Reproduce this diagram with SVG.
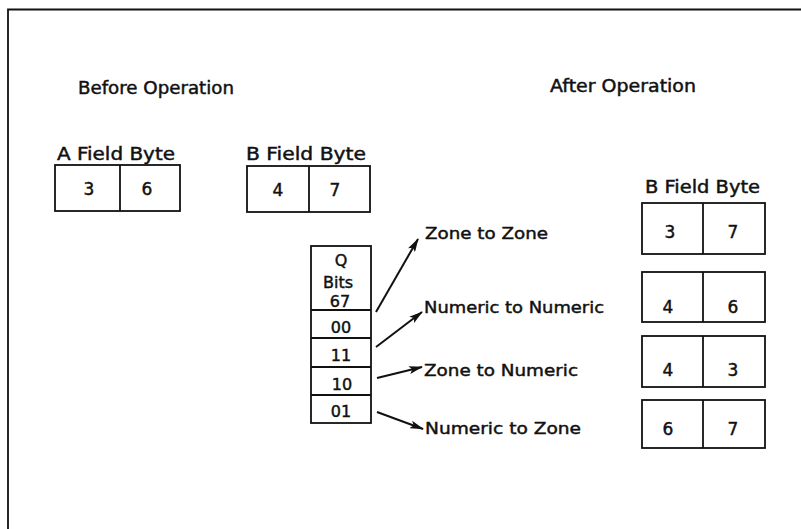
<svg xmlns="http://www.w3.org/2000/svg" width="801" height="529" viewBox="0 0 801 529">
<defs>
<style>
text{font-family:"DejaVu Sans","Liberation Sans",sans-serif;fill:#111;stroke:#111;stroke-width:0.45;}
.h{font-size:17px;}
.lbl{font-size:16px;}
.d{font-size:17px;text-anchor:middle;}
.q{font-size:16px;text-anchor:middle;}
.box{fill:none;stroke:#111;stroke-width:1.8;}
.ln{stroke:#111;stroke-width:1.8;fill:none;}
.arr{stroke:#111;stroke-width:2;fill:none;marker-end:url(#ah);}
</style>
<marker id="ah" viewBox="0 0 14 8" refX="13" refY="4" markerWidth="14" markerHeight="8" markerUnits="userSpaceOnUse" orient="auto">
<path d="M0,0 L14,4 L0,8 L3,4 Z" fill="#111"/>
</marker>
</defs>
<rect width="801" height="529" fill="#fff"/>
<g id="frame">
<path class="ln" d="M8,529 L8,9.5 L801,9.5"/>
</g>
<g id="headers">
<text class="h" x="78" y="94" textLength="156" lengthAdjust="spacingAndGlyphs">Before Operation</text>
<text class="h" x="550" y="92" textLength="146" lengthAdjust="spacingAndGlyphs">After Operation</text>
</g>
<g id="a-field">
<text class="h" x="57" y="160" textLength="118" lengthAdjust="spacingAndGlyphs">A Field Byte</text>
<rect class="box" x="55" y="165" width="125" height="46"/>
<line class="ln" x1="120" y1="165" x2="120" y2="211"/>
<text class="d" x="89" y="195">3</text>
<text class="d" x="147" y="195">6</text>
</g>
<g id="b-field-before">
<text class="h" x="246" y="160" textLength="120" lengthAdjust="spacingAndGlyphs">B Field Byte</text>
<rect class="box" x="247" y="166" width="123" height="46"/>
<line class="ln" x1="309" y1="166" x2="309" y2="212"/>
<text class="d" x="278" y="196">4</text>
<text class="d" x="335" y="196">7</text>
</g>
<g id="q-bits">
<rect class="box" x="311" y="246" width="60" height="177"/>
<line class="ln" x1="311" y1="310" x2="371" y2="310"/>
<line class="ln" x1="311" y1="338" x2="371" y2="338"/>
<line class="ln" x1="311" y1="367" x2="371" y2="367"/>
<line class="ln" x1="311" y1="395" x2="371" y2="395"/>
<text class="q" x="341" y="266">Q</text>
<text class="q" x="338" y="288">Bits</text>
<text class="q" x="340" y="307">67</text>
<text class="q" x="341" y="333">00</text>
<text class="q" x="341" y="361">11</text>
<text class="q" x="342" y="390">10</text>
<text class="q" x="341" y="417">01</text>
</g>
<g id="connectors">
<line class="arr" x1="376" y1="312" x2="418" y2="239"/>
<line class="arr" x1="376" y1="347" x2="422" y2="312"/>
<line class="arr" x1="377" y1="378" x2="422" y2="367"/>
<line class="arr" x1="377" y1="412" x2="423" y2="429"/>
</g>
<g id="labels">
<text class="lbl" x="425" y="239" textLength="123" lengthAdjust="spacingAndGlyphs">Zone to Zone</text>
<text class="lbl" x="424" y="313" textLength="180" lengthAdjust="spacingAndGlyphs">Numeric to Numeric</text>
<text class="lbl" x="424" y="376" textLength="154" lengthAdjust="spacingAndGlyphs">Zone to Numeric</text>
<text class="lbl" x="425" y="434" textLength="156" lengthAdjust="spacingAndGlyphs">Numeric to Zone</text>
</g>
<g id="after-title">
<text class="h" x="645" y="193" textLength="115" lengthAdjust="spacingAndGlyphs">B Field Byte</text>
</g>
<g id="result-zz">
<rect class="box" x="642" y="203" width="123" height="51"/>
<line class="ln" x1="703" y1="203" x2="703" y2="254"/>
<text class="d" x="670" y="238">3</text>
<text class="d" x="733" y="238">7</text>
</g>
<g id="result-nn">
<rect class="box" x="642" y="272" width="123" height="50"/>
<line class="ln" x1="703" y1="272" x2="703" y2="322"/>
<text class="d" x="668" y="313">4</text>
<text class="d" x="733" y="313">6</text>
</g>
<g id="result-zn">
<rect class="box" x="642" y="336" width="123" height="51"/>
<line class="ln" x1="703" y1="336" x2="703" y2="387"/>
<text class="d" x="668" y="376">4</text>
<text class="d" x="733" y="376">3</text>
</g>
<g id="result-nz">
<rect class="box" x="642" y="400" width="123" height="48"/>
<line class="ln" x1="703" y1="400" x2="703" y2="448"/>
<text class="d" x="668" y="435">6</text>
<text class="d" x="733" y="435">7</text>
</g>
</svg>
